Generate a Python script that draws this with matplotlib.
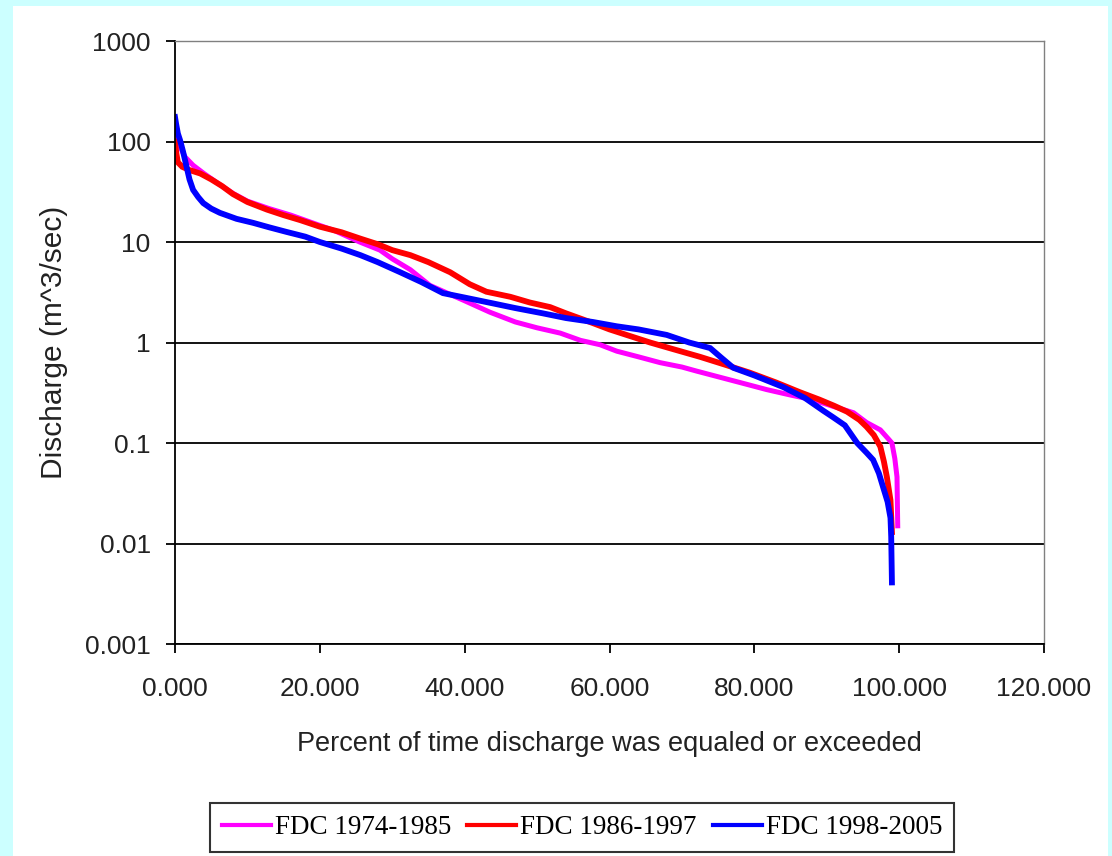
import matplotlib
matplotlib.use("Agg")
import matplotlib.pyplot as plt
from matplotlib.patches import Rectangle

# flow duration curves: percent exceeded, discharge (m^3/sec)
pct_7485 = [0.0, 0.5, 1.4, 2.5, 4.0, 6.0, 8.0, 10.0, 13.0, 16.0, 19.0, 22.0, 25.5, 28.3, 30.0,
            32.5, 35.2, 37.6, 40.0, 43.5, 47.0, 50.0, 53.2, 56.0, 58.7, 61.0, 64.0, 67.0, 70.0,
            72.0, 74.8, 78.0, 81.7, 85.0, 88.0, 91.0, 93.7, 95.5, 97.4, 98.5, 99.0, 99.4, 99.7, 99.8]
q_7485 = [135, 95, 70, 58, 48, 38, 30.5, 25.5, 21.5, 18.5, 15.5, 13, 10, 8.3, 6.8,
          5.3, 3.7, 3.1, 2.6, 2.0, 1.6, 1.4, 1.24, 1.05, 0.95, 0.82, 0.72, 0.63, 0.57,
          0.52, 0.46, 0.40, 0.34, 0.30, 0.27, 0.23, 0.2, 0.16, 0.135, 0.11, 0.1, 0.07, 0.046, 0.015]

pct_8697 = [0.0, 0.2, 0.4, 1.0, 2.0, 3.5, 5.0, 6.5, 8.0, 10.0, 12.7, 15.0, 17.3, 20.0, 23.0,
            25.6, 28.0, 30.0, 32.5, 35.0, 38.0, 40.7, 43.0, 46.3, 49.0, 51.8, 54.0, 57.3, 60.0,
            62.5, 65.6, 69.0, 72.5, 76.0, 79.4, 83.0, 86.3, 89.0, 91.0, 92.8, 94.5, 95.5, 96.5,
            97.4, 97.9, 98.3, 98.8, 99.0]
q_8697 = [100, 75, 62, 56, 52, 48, 42, 36, 30, 25, 21, 18.5, 16.5, 14.2, 12.5,
          10.8, 9.5, 8.3, 7.4, 6.3, 5.0, 3.8, 3.2, 2.85, 2.5, 2.25, 1.95, 1.6, 1.35,
          1.18, 1.0, 0.85, 0.72, 0.60, 0.50, 0.40, 0.32, 0.27, 0.235, 0.205, 0.17, 0.145, 0.12,
          0.092, 0.065, 0.046, 0.027, 0.013]

pct_9805 = [0.0, 0.15, 0.4, 0.7, 1.1, 1.6, 2.0, 2.5, 3.2, 3.9, 5.0, 6.2, 8.5, 10.8, 13.0,
            15.4, 18.0, 20.0, 23.0, 25.6, 28.0, 31.1, 34.0, 37.0, 40.0, 43.9, 47.0, 50.8, 54.0,
            57.7, 61.0, 64.0, 67.9, 71.0, 73.9, 75.5, 77.1, 80.0, 84.0, 87.0, 89.5, 90.9, 92.5,
            94.2, 95.5, 96.4, 97.2, 97.8, 98.4, 98.8, 98.9, 99.0]
q_9805 = [175, 150, 120, 103, 80, 56, 42, 33, 28, 24.4, 21.5, 19.5, 17, 15.5, 14,
          12.6, 11.3, 10, 8.6, 7.4, 6.3, 5.0, 4.0, 3.1, 2.8, 2.45, 2.2, 1.95, 1.75,
          1.6, 1.45, 1.35, 1.19, 1.0, 0.88, 0.70, 0.56, 0.47, 0.36, 0.28, 0.21, 0.18, 0.15,
          0.10, 0.08, 0.068, 0.05, 0.036, 0.026, 0.018, 0.0117, 0.0041]

labels = ["FDC 1974-1985", "FDC 1986-1997", "FDC 1998-2005"]
colors = ["#FF00FF", "#FF0000", "#0000FF"]

y_ticks = [0.001, 0.01, 0.1, 1, 10, 100, 1000]
y_tick_labels = ["0.001", "0.01", "0.1", "1", "10", "100", "1000"]
x_ticks = [0, 20, 40, 60, 80, 100, 120]
x_tick_labels = ["0.000", "20.000", "40.000", "60.000", "80.000", "100.000", "120.000"]

W, H = 1112, 856
fig = plt.figure(figsize=(W / 100, H / 100), dpi=100)
fig.patch.set_facecolor("#CCFFFF")
fig.patches.append(Rectangle((13 / W, 0), (1108 - 13) / W, 1 - 6 / H,
                             transform=fig.transFigure, facecolor="white", edgecolor="none", zorder=-5))

ax = fig.add_axes([175 / W, 1 - 644 / H, (1044 - 175) / W, (644 - 41) / H])
ax.set_zorder(2)
ax.set_facecolor("white")

lines = []
for xs, ys, c, lw in [(pct_7485, q_7485, colors[0], 3.6),
                      (pct_8697, q_8697, colors[1], 4.2),
                      (pct_9805, q_9805, colors[2], 4.2)]:
    l, = ax.plot(xs, ys, color=c, linewidth=lw, solid_joinstyle="miter")
    lines.append(l)

ax.set_yscale("log")
ax.set_ylim(0.001, 1000)
ax.set_xlim(0, 120)
ax.set_yticks(y_ticks)
ax.set_yticklabels(y_tick_labels)
ax.set_xticks(x_ticks)
ax.set_xticklabels(x_tick_labels)
ax.minorticks_off()
ax.yaxis.grid(True, color="black", linewidth=1.3)
ax.set_axisbelow(True)

for s in ["left", "bottom"]:
    ax.spines[s].set_color("black")
    ax.spines[s].set_linewidth(1.3)
for s in ["top", "right"]:
    ax.spines[s].set_color("#808080")
    ax.spines[s].set_linewidth(1.0)

fnt = "Liberation Sans"
ax.tick_params(axis="y", direction="out", length=6.5, width=1.3, pad=11, labelsize=19, colors="black")
ax.tick_params(axis="x", direction="out", length=6.5, width=1.3, pad=17, labelsize=19, colors="black")
for t in ax.get_xticklabels() + ax.get_yticklabels():
    t.set_fontfamily(fnt)
    t.set_color("#222222")

ax.set_xlabel("Percent of time discharge was equaled or exceeded", fontsize=19.5,
              family=fnt, color="#222222", labelpad=22)
ax.set_ylabel("Discharge (m^3/sec)", fontsize=21.5, family=fnt, color="#222222", labelpad=12)

leg = fig.legend(lines, labels, loc="center", bbox_to_anchor=(582 / W, 1 - 827.5 / H), ncol=3,
                 fancybox=False, frameon=True, prop={"family": "Liberation Serif", "size": 19.5},
                 handlelength=1.8, handletextpad=0.15, columnspacing=0.6, borderpad=0.45)
leg.get_frame().set_edgecolor("black")
leg.get_frame().set_linewidth(1.5)
for h in leg.get_lines():
    h.set_linewidth(3)

plt.savefig("out.png", dpi=100, facecolor=fig.get_facecolor())
